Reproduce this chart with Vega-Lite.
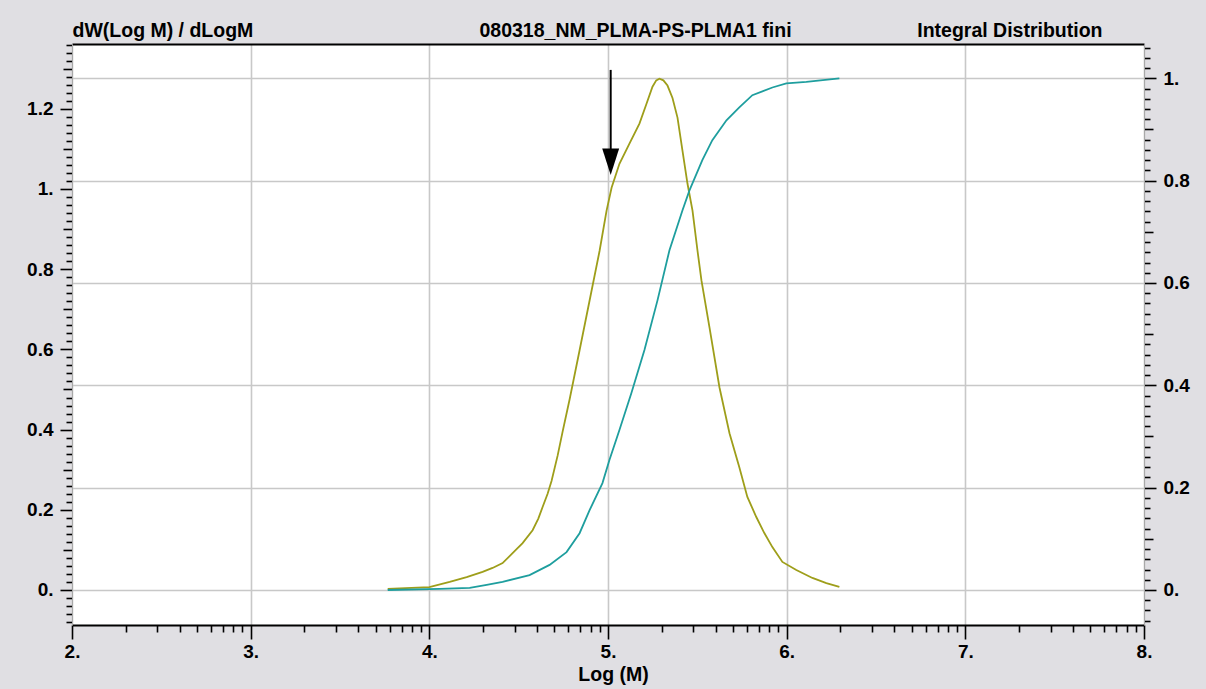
{
  "$schema": "https://vega.github.io/schema/vega-lite/v6.json",
  "autosize": {"type": "none"},
  "width": 1072,
  "height": 581,
  "padding": {"left": 72, "top": 44, "right": 62, "bottom": 64},
  "background": "#e0dfe3",
  "view": {"fill": "white", "stroke": null},
  "config": {
    "font": "Liberation Sans",
    "axis": {
      "labelFont": "Liberation Sans",
      "labelFontWeight": "bold",
      "labelFontSize": 19,
      "labelColor": "black",
      "titleFont": "Liberation Sans",
      "titleFontWeight": "bold",
      "titleFontSize": 19.5,
      "titleColor": "black",
      "tickColor": "black",
      "tickWidth": 1.6,
      "labelOverlap": false,
      "labelBound": false,
      "labelFlush": false,
      "gridWidth": 1.6
    }
  },
  "datasets": {
    "dw": [
      {"logM": 3.767, "dw": 0.003}, {"logM": 4.0, "dw": 0.007}, {"logM": 4.114, "dw": 0.02},
      {"logM": 4.209, "dw": 0.032}, {"logM": 4.298, "dw": 0.045}, {"logM": 4.354, "dw": 0.055},
      {"logM": 4.41, "dw": 0.067}, {"logM": 4.466, "dw": 0.092}, {"logM": 4.522, "dw": 0.117},
      {"logM": 4.578, "dw": 0.149}, {"logM": 4.61, "dw": 0.178}, {"logM": 4.634, "dw": 0.207},
      {"logM": 4.662, "dw": 0.24}, {"logM": 4.684, "dw": 0.272},
      {"logM": 4.718, "dw": 0.335}, {"logM": 4.746, "dw": 0.395}, {"logM": 4.785, "dw": 0.475},
      {"logM": 4.841, "dw": 0.598}, {"logM": 4.897, "dw": 0.722}, {"logM": 4.953, "dw": 0.846},
      {"logM": 4.992, "dw": 0.946}, {"logM": 5.02, "dw": 1.003}, {"logM": 5.064, "dw": 1.063},
      {"logM": 5.12, "dw": 1.113}, {"logM": 5.176, "dw": 1.163}, {"logM": 5.215, "dw": 1.212},
      {"logM": 5.249, "dw": 1.255}, {"logM": 5.27, "dw": 1.271}, {"logM": 5.288, "dw": 1.275},
      {"logM": 5.31, "dw": 1.271}, {"logM": 5.333, "dw": 1.258},
      {"logM": 5.361, "dw": 1.227}, {"logM": 5.389, "dw": 1.178}, {"logM": 5.417, "dw": 1.095},
      {"logM": 5.445, "dw": 1.013}, {"logM": 5.473, "dw": 0.946}, {"logM": 5.501, "dw": 0.846},
      {"logM": 5.523, "dw": 0.772}, {"logM": 5.568, "dw": 0.655}, {"logM": 5.624, "dw": 0.505},
      {"logM": 5.68, "dw": 0.391}, {"logM": 5.735, "dw": 0.306}, {"logM": 5.78, "dw": 0.232},
      {"logM": 5.83, "dw": 0.182}, {"logM": 5.875, "dw": 0.142}, {"logM": 5.92, "dw": 0.107},
      {"logM": 5.976, "dw": 0.07}, {"logM": 6.054, "dw": 0.05}, {"logM": 6.144, "dw": 0.03},
      {"logM": 6.222, "dw": 0.017}, {"logM": 6.295, "dw": 0.0075}
    ],
    "integral": [
      {"logM": 3.767, "cum": 0}, {"logM": 4.058, "cum": 0.002}, {"logM": 4.226, "cum": 0.004},
      {"logM": 4.321, "cum": 0.01}, {"logM": 4.41, "cum": 0.016}, {"logM": 4.561, "cum": 0.029},
      {"logM": 4.673, "cum": 0.049}, {"logM": 4.768, "cum": 0.074}, {"logM": 4.841, "cum": 0.111},
      {"logM": 4.897, "cum": 0.156}, {"logM": 4.969, "cum": 0.209}, {"logM": 5.008, "cum": 0.254},
      {"logM": 5.064, "cum": 0.3125}, {"logM": 5.131, "cum": 0.385}, {"logM": 5.204, "cum": 0.469},
      {"logM": 5.277, "cum": 0.566}, {"logM": 5.344, "cum": 0.664}, {"logM": 5.417, "cum": 0.742},
      {"logM": 5.456, "cum": 0.781}, {"logM": 5.528, "cum": 0.84}, {"logM": 5.584, "cum": 0.879},
      {"logM": 5.663, "cum": 0.918}, {"logM": 5.735, "cum": 0.943}, {"logM": 5.808, "cum": 0.967},
      {"logM": 5.92, "cum": 0.982}, {"logM": 5.998, "cum": 0.99}, {"logM": 6.11, "cum": 0.993},
      {"logM": 6.295, "cum": 1.0}
    ],
    "arrow": [
      {"x": 5.015, "top": 1.297, "bottom": 1.075, "head": 1.068}
    ]
  },
  "layer": [
    {
      "data": {"name": "dw"},
      "mark": {"type": "line", "color": "#9e9e1a", "strokeWidth": 1.8},
      "encoding": {
        "x": {
          "field": "logM", "type": "quantitative",
          "scale": {"domain": [2, 8], "nice": false, "zero": false},
          "axis": {
            "orient": "bottom",
            "values": [2, 2.30103, 2.47712, 2.60206, 2.69897, 2.77815, 2.8451, 2.90309, 2.95424,
                       3, 3.30103, 3.47712, 3.60206, 3.69897, 3.77815, 3.8451, 3.90309, 3.95424,
                       4, 4.30103, 4.47712, 4.60206, 4.69897, 4.77815, 4.8451, 4.90309, 4.95424,
                       5, 5.30103, 5.47712, 5.60206, 5.69897, 5.77815, 5.8451, 5.90309, 5.95424,
                       6, 6.30103, 6.47712, 6.60206, 6.69897, 6.77815, 6.8451, 6.90309, 6.95424,
                       7, 7.30103, 7.47712, 7.60206, 7.69897, 7.77815, 7.8451, 7.90309, 7.95424, 8],
            "labelExpr": "abs(datum.value - round(datum.value)) < 0.001 ? format(datum.value, 'd') + '.' : ''",
            "tickSize": {"condition": {"test": "abs(datum.value - round(datum.value)) < 0.001", "value": 14}, "value": 7},
            "grid": true,
            "gridColor": {"condition": {"test": "abs(datum.value - round(datum.value)) < 0.001", "value": "#c8c8c8"}, "value": "transparent"},
            "domainColor": "black",
            "domainWidth": 2,
            "labelPadding": 3,
            "title": "Log (M)",
            "titleX": 541,
            "titleY": 55,
            "titleAlign": "center",
            "titleBaseline": "alphabetic"
          }
        },
        "y": {
          "field": "dw", "type": "quantitative",
          "scale": {"domain": [-0.0873, 1.3616], "nice": false, "zero": false},
          "axis": {
            "orient": "left",
            "values": [-0.08, -0.06, -0.04, -0.02, 0, 0.02, 0.04, 0.06, 0.08, 0.1, 0.12, 0.14, 0.16, 0.18, 0.2, 0.22, 0.24, 0.26, 0.28, 0.3, 0.32, 0.34, 0.36, 0.38, 0.4, 0.42, 0.44, 0.46, 0.48, 0.5, 0.52, 0.54, 0.56, 0.58, 0.6, 0.62, 0.64, 0.66, 0.68, 0.7, 0.72, 0.74, 0.76, 0.78, 0.8, 0.82, 0.84, 0.86, 0.88, 0.9, 0.92, 0.94, 0.96, 0.98, 1, 1.02, 1.04, 1.06, 1.08, 1.1, 1.12, 1.14, 1.16, 1.18, 1.2, 1.22, 1.24, 1.26, 1.28, 1.3, 1.32, 1.34, 1.36],
            "labelExpr": "abs(datum.value*5 - round(datum.value*5)) < 0.001 ? (abs(datum.value - round(datum.value)) < 0.001 ? format(datum.value, 'd') + '.' : format(datum.value, '.1f')) : ''",
            "tickSize": {"condition": [
              {"test": "abs(datum.value*5 - round(datum.value*5)) < 0.001", "value": 12},
              {"test": "abs(datum.value*10 - round(datum.value*10)) < 0.001", "value": 9}
            ], "value": 6},
            "grid": false,
            "domainColor": "#a8a8a8",
            "domainWidth": 1,
            "labelPadding": 7,
            "title": "dW(Log M) / dLogM",
            "titleAngle": 0,
            "titleX": 0,
            "titleY": -8,
            "titleAlign": "left",
            "titleBaseline": "alphabetic"
          }
        }
      }
    },
    {
      "data": {"name": "integral"},
      "mark": {"type": "line", "color": "#1e9e9e", "strokeWidth": 1.8},
      "encoding": {
        "x": {
          "field": "logM", "type": "quantitative",
          "scale": {"domain": [2, 8], "nice": false, "zero": false},
          "axis": null
        },
        "y": {
          "field": "cum", "type": "quantitative",
          "scale": {"domain": [-0.0684, 1.067], "nice": false, "zero": false},
          "axis": {
            "orient": "right",
            "values": [-0.06, -0.04, -0.02, 0, 0.02, 0.04, 0.06, 0.08, 0.1, 0.12, 0.14, 0.16, 0.18, 0.2, 0.22, 0.24, 0.26, 0.28, 0.3, 0.32, 0.34, 0.36, 0.38, 0.4, 0.42, 0.44, 0.46, 0.48, 0.5, 0.52, 0.54, 0.56, 0.58, 0.6, 0.62, 0.64, 0.66, 0.68, 0.7, 0.72, 0.74, 0.76, 0.78, 0.8, 0.82, 0.84, 0.86, 0.88, 0.9, 0.92, 0.94, 0.96, 0.98, 1, 1.02, 1.04, 1.06],
            "labelExpr": "abs(datum.value*5 - round(datum.value*5)) < 0.001 ? (abs(datum.value - round(datum.value)) < 0.001 ? format(datum.value, 'd') + '.' : format(datum.value, '.1f')) : ''",
            "tickSize": {"condition": [
              {"test": "abs(datum.value*5 - round(datum.value*5)) < 0.001", "value": 12},
              {"test": "abs(datum.value*10 - round(datum.value*10)) < 0.001", "value": 9}
            ], "value": 6},
            "grid": true,
            "gridColor": {"condition": {"test": "abs(datum.value*5 - round(datum.value*5)) < 0.001 && datum.value > -0.01", "value": "#c8c8c8"}, "value": "transparent"},
            "domainColor": "#a8a8a8",
            "domainWidth": 1,
            "labelPadding": 7,
            "title": "Integral Distribution",
            "titleAngle": 0,
            "titleX": -42,
            "titleY": -8,
            "titleAlign": "right",
            "titleBaseline": "alphabetic"
          }
        }
      }
    },
    {
      "data": {"name": "arrow"},
      "mark": {"type": "rule", "color": "black", "strokeWidth": 2},
      "encoding": {
        "x": {
          "field": "x", "type": "quantitative",
          "scale": {"domain": [2, 8], "nice": false, "zero": false},
          "axis": {
            "orient": "top",
            "domain": true,
            "domainColor": "black",
            "domainWidth": 2,
            "ticks": false,
            "labels": false,
            "grid": false,
            "title": "080318_NM_PLMA-PS-PLMA1 fini",
            "titleX": 563,
            "titleY": -8,
            "titleAlign": "center",
            "titleBaseline": "alphabetic"
          }
        },
        "y": {
          "field": "top", "type": "quantitative",
          "scale": {"domain": [-0.0873, 1.3616], "nice": false, "zero": false},
          "axis": null
        },
        "y2": {"field": "bottom"}
      }
    },
    {
      "data": {"name": "arrow"},
      "mark": {"type": "point", "shape": "M-0.64,-1L0.64,-1L0,1Z", "size": 700, "filled": true, "color": "black", "opacity": 1, "strokeWidth": 0},
      "encoding": {
        "x": {
          "field": "x", "type": "quantitative",
          "scale": {"domain": [2, 8], "nice": false, "zero": false},
          "axis": null
        },
        "y": {
          "field": "head", "type": "quantitative",
          "scale": {"domain": [-0.0873, 1.3616], "nice": false, "zero": false},
          "axis": null
        }
      }
    }
  ],
  "resolve": {"scale": {"x": "independent", "y": "independent"}}
}
